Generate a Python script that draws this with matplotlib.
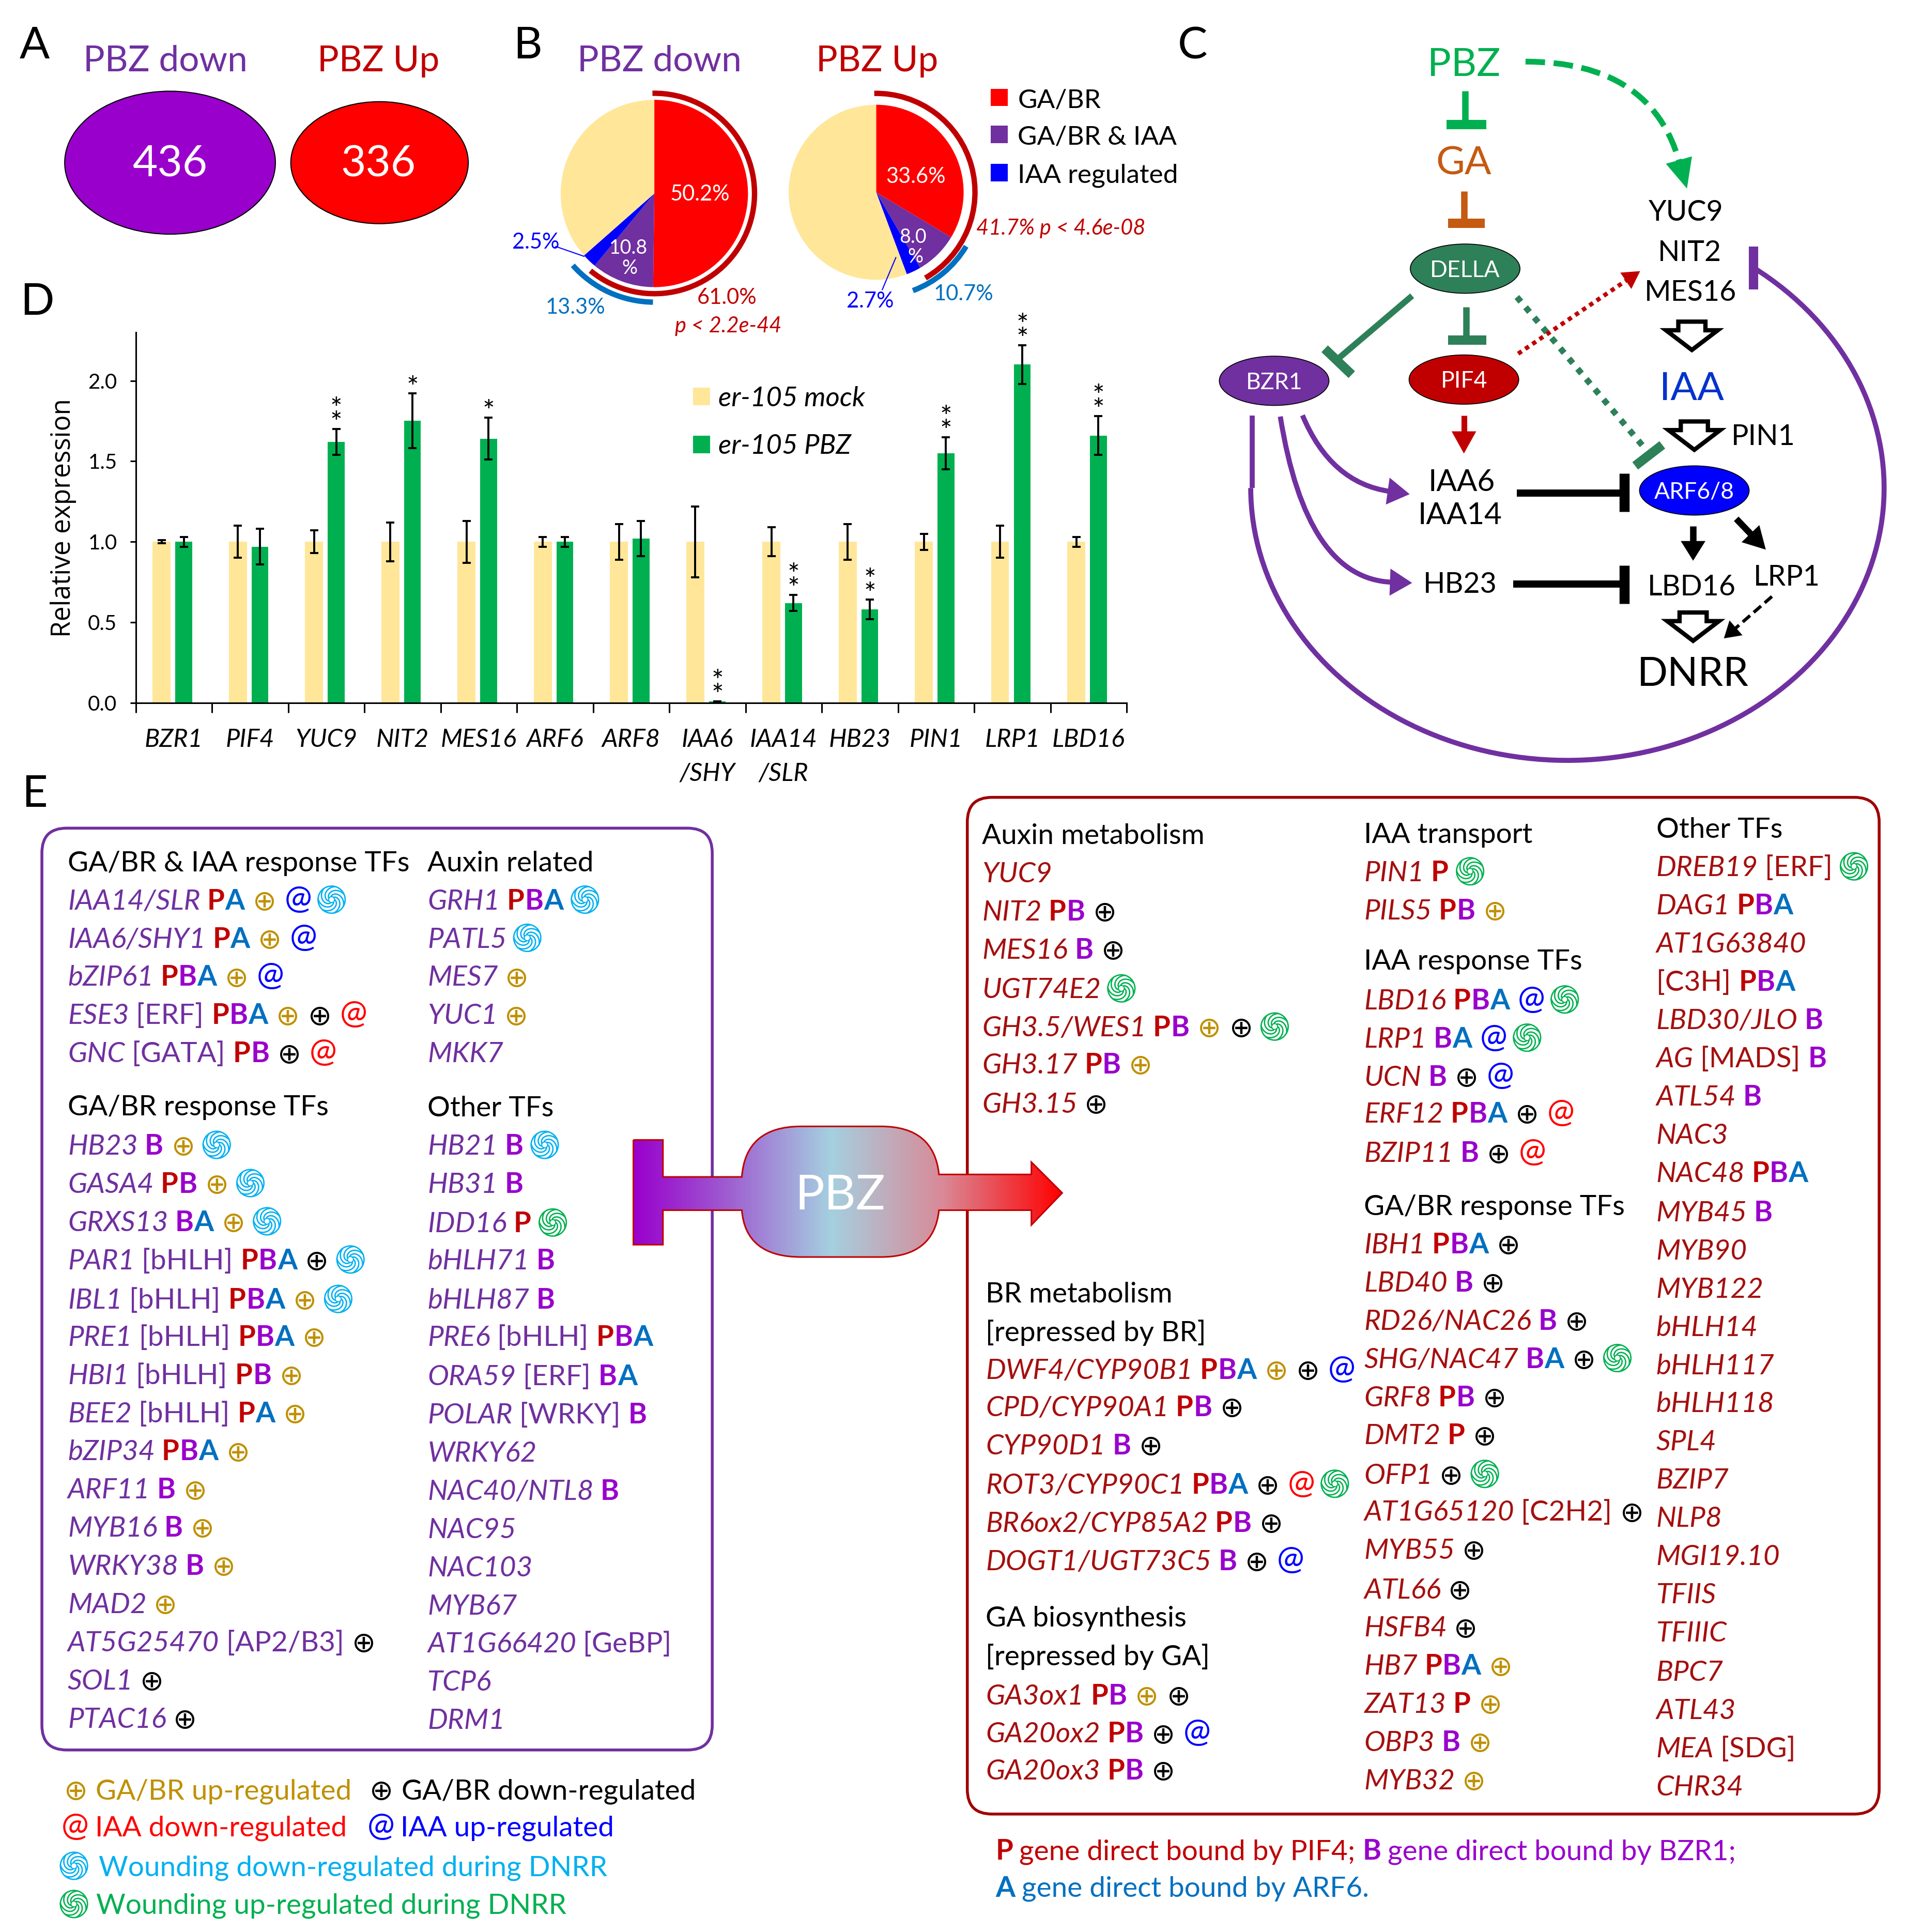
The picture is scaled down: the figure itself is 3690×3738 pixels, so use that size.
import numpy as np
import matplotlib
matplotlib.use("Agg")
import matplotlib.pyplot as plt
from matplotlib.patches import Ellipse, Polygon, Arc, PathPatch, FancyBboxPatch, Rectangle
from matplotlib.path import Path
from matplotlib.colors import LinearSegmentedColormap

# ---------- data ----------
VENN_LABELS = ["436", "336"]
PIE_DOWN = [50.2, 10.8, 2.5, 36.5]
PIE_UP = [33.6, 8.0, 2.7, 55.7]
PIE_COLORS = ["#FF0000", "#7030A0", "#0000FF", "#FFE699"]
LEGEND_B = ["GA/BR", "GA/BR & IAA", "IAA regulated"]

GENES_D = ["BZR1", "PIF4", "YUC9", "NIT2", "MES16", "ARF6", "ARF8", "IAA6\n/SHY",
           "IAA14\n/SLR", "HB23", "PIN1", "LRP1", "LBD16"]
MOCK = [1, 1, 1, 1, 1, 1, 1, 1, 1, 1, 1, 1, 1]
MOCK_ERR = [0.01, 0.10, 0.07, 0.12, 0.13, 0.03, 0.11, 0.22, 0.09, 0.11, 0.05, 0.10, 0.03]
PBZ = [1.00, 0.97, 1.62, 1.75, 1.64, 1.00, 1.02, 0.01, 0.62, 0.58, 1.55, 2.10, 1.66]
PBZ_ERR = [0.03, 0.11, 0.08, 0.17, 0.13, 0.03, 0.11, 0.0, 0.05, 0.06, 0.10, 0.12, 0.12]
STARS = [0, 0, 2, 1, 1, 0, 0, 2, 2, 2, 2, 2, 2]

L1A = [("IAA14/SLR", "", "PA", "ubc"), ("IAA6/SHY1", "", "PA", "ub"), ("bZIP61", "", "PBA", "ub"),
       ("ESE3", "[ERF]", "PBA", "udr"), ("GNC", "[GATA]", "PB", "dr")]
L1B = [("HB23", "", "B", "uc"), ("GASA4", "", "PB", "uc"), ("GRXS13", "", "BA", "uc"),
       ("PAR1", "[bHLH]", "PBA", "dc"), ("IBL1", "[bHLH]", "PBA", "uc"), ("PRE1", "[bHLH]", "PBA", "u"),
       ("HBI1", "[bHLH]", "PB", "u"), ("BEE2", "[bHLH]", "PA", "u"), ("bZIP34", "", "PBA", "u"),
       ("ARF11", "", "B", "u"), ("MYB16", "", "B", "u"), ("WRKY38", "", "B", "u"), ("MAD2", "", "", "u"),
       ("AT5G25470", "[AP2/B3]", "", "d"), ("SOL1", "", "", "d"), ("PTAC16", "", "", "d")]
L2A = [("GRH1", "", "PBA", "c"), ("PATL5", "", "", "c"), ("MES7", "", "", "u"), ("YUC1", "", "", "u"),
       ("MKK7", "", "", "")]
L2B = [("HB21", "", "B", "c"), ("HB31", "", "B", ""), ("IDD16", "", "P", "g"), ("bHLH71", "", "B", ""),
       ("bHLH87", "", "B", ""), ("PRE6", "[bHLH]", "PBA", ""), ("ORA59", "[ERF]", "BA", ""),
       ("POLAR", "[WRKY]", "B", ""), ("WRKY62", "", "", ""), ("NAC40/NTL8", "", "B", ""), ("NAC95", "", "", ""),
       ("NAC103", "", "", ""), ("MYB67", "", "", ""), ("AT1G66420", "[GeBP]", "", ""), ("TCP6", "", "", ""),
       ("DRM1", "", "", "")]
R1A = [("YUC9", "", "", ""), ("NIT2", "", "PB", "d"), ("MES16", "", "B", "d"), ("UGT74E2", "", "", "g"),
       ("GH3.5/WES1", "", "PB", "udg"), ("GH3.17", "", "PB", "u"), ("GH3.15", "", "", "d")]
R1B = [("DWF4/CYP90B1", "", "PBA", "udb"), ("CPD/CYP90A1", "", "PB", "d"), ("CYP90D1", "", "B", "d"),
       ("ROT3/CYP90C1", "", "PBA", "drg"), ("BR6ox2/CYP85A2", "", "PB", "d"), ("DOGT1/UGT73C5", "", "B", "db")]
R1C = [("GA3ox1", "", "PB", "ud"), ("GA20ox2", "", "PB", "db"), ("GA20ox3", "", "PB", "d")]
R2A = [("PIN1", "", "P", "g"), ("PILS5", "", "PB", "u")]
R2B = [("LBD16", "", "PBA", "bg"), ("LRP1", "", "BA", "bg"), ("UCN", "", "B", "db"), ("ERF12", "", "PBA", "dr"),
       ("BZIP11", "", "B", "dr")]
R2C = [("IBH1", "", "PBA", "d"), ("LBD40", "", "B", "d"), ("RD26/NAC26", "", "B", "d"),
       ("SHG/NAC47", "", "BA", "dg"), ("GRF8", "", "PB", "d"), ("DMT2", "", "P", "d"), ("OFP1", "", "", "dg"),
       ("AT1G65120", "[C2H2]", "", "d"), ("MYB55", "", "", "d"), ("ATL66", "", "", "d"), ("HSFB4", "", "", "d"),
       ("HB7", "", "PBA", "u"), ("ZAT13", "", "P", "u"), ("OBP3", "", "B", "u"), ("MYB32", "", "", "u")]
R3 = [("DREB19", "[ERF]", "", "g"), ("DAG1", "", "PBA", ""), ("AT1G63840", "", "", ""), ("", "[C3H]", "PBA", ""),
      ("LBD30/JLO", "", "B", ""), ("AG", "[MADS]", "B", ""), ("ATL54", "", "B", ""), ("NAC3", "", "", ""),
      ("NAC48", "", "PBA", ""), ("MYB45", "", "B", ""), ("MYB90", "", "", ""), ("MYB122", "", "", ""),
      ("bHLH14", "", "", ""), ("bHLH117", "", "", ""), ("bHLH118", "", "", ""), ("SPL4", "", "", ""),
      ("BZIP7", "", "", ""), ("NLP8", "", "", ""), ("MGI19.10", "", "", ""), ("TFIIS", "", "", ""),
      ("TFIIIC", "", "", ""), ("BPC7", "", "", ""), ("ATL43", "", "", ""), ("MEA", "[SDG]", "", ""),
      ("CHR34", "", "", "")]

# ---------- set-up ----------
FONT = "Lato"
plt.rcParams["font.family"] = [FONT, "DejaVu Sans"]
W = 1548.0
H = W * 3738 / 3691
fig = plt.figure(figsize=(36.91, 37.38), dpi=100, facecolor="white")
PX = 3691 / W
ov = fig.add_axes([0, 0, 1, 1], zorder=5)
ov.set_xlim(0, W); ov.set_ylim(H, 0); ov.axis("off")
renderer = fig.canvas.get_renderer()

PURPLE = "#7030A0"; DRED = "#C00000"; BLUE2 = "#0070C0"; GOLD = "#BF9000"; GENE_R = "#A50F0F"
LET = {"P": "#C00000", "B": "#9900CC", "A": "#0070C0"}
SZ = 39.5


def T(x, y, s, size=SZ, color="black", ha="center", va="center", **kw):
    return ov.text(x, y + 2.5, s, fontsize=size, color=color, ha=ha, va=va, **kw)


def swirl(cx, cy, color, r=11.0):
    ov.add_patch(Ellipse((cx, cy), 2 * r, 2 * r, fill=False, ec=color, lw=1.9))
    for k in range(7):
        t = np.linspace(0, 1, 24)
        a = 2 * np.pi * k / 7 + 2.3 * t
        rad = r * (0.22 + 0.78 * t)
        ov.plot(cx + rad * np.cos(a), cy + rad * np.sin(a), color=color, lw=1.9, solid_capstyle="round")
    ov.add_patch(Ellipse((cx, cy), 0.44 * r, 0.44 * r, fill=False, ec=color, lw=1.4))


MARKS = {"u": ("\u2295", GOLD), "d": ("\u2295", "black"), "r": ("@", "#FF0000"), "b": ("@", "#0000FF")}
BASE = 9


def put(x, y, s, color, gap, **kw):
    t = ov.text(x, y + BASE, s, fontsize=kw.pop("size", SZ), color=color, ha="left", va="baseline", **kw)
    return x + t.get_window_extent(renderer).width / PX + gap


def mark(x, y, c, size=SZ):
    if c in "ud":
        return put(x, y + 0.5, MARKS[c][0], MARKS[c][1], 6.5, family=["DejaVu Sans"], size=size * 1.0)
    if c in "rb":
        return put(x, y - 0.5, MARKS[c][0], MARKS[c][1], 5.0, size=size * 1.15)
    swirl(x + 11, y + 1, "#00B0F0" if c == "c" else "#00B050")
    return x + 28


def gene_line(x, y, g, color):
    name, br, letters, marks = g
    if name:
        x = put(x, y, name, color, 5.5, style="italic")
    if br:
        x = put(x, y, br, color, 6.5)
    for i, l in enumerate(letters):
        x = put(x, y, l, LET[l], 0.3 if i < len(letters) - 1 else 6.5, weight="bold")
    for c in marks:
        x = mark(x, y, c)


def column(x, ys, genes, color):
    for y, g in zip(ys, genes):
        gene_line(x, y, g, color)


# ---------- panel letters ----------
for s, x, y in [("A", 28, 35), ("B", 428, 35), ("C", 968, 35), ("D", 30, 243), ("E", 28, 642)]:
    T(x, y, s, size=62)

# ---------- panel A ----------
T(134, 47, "PBZ down", size=50, color=PURPLE)
T(307, 47, "PBZ Up", size=50, color=DRED)
ov.add_patch(Ellipse((138, 132), 171, 116, fc="#9900CC", ec="black", lw=1.5))
ov.add_patch(Ellipse((308, 132), 144, 99, fc="#FF0000", ec="black", lw=1.5))
T(138, 131, VENN_LABELS[0], size=60, color="white")
T(307, 131, VENN_LABELS[1], size=60, color="white")

# ---------- panel B ----------
T(535, 47, "PBZ down", size=50, color=PURPLE)
T(712, 47, "PBZ Up", size=50, color=DRED)


def pie(cx, cy, r, vals, red_span, blue_span, rr, rb):
    R = r * 1.3
    ax = fig.add_axes([(cx - R) / W, 1 - (cy + R) / H, 2 * R / W, 2 * R / H], zorder=2)
    ax.pie(vals, colors=PIE_COLORS, startangle=90, counterclock=False, radius=1,
           wedgeprops=dict(linewidth=0))
    ax.set_xlim(-1.3, 1.3); ax.set_ylim(-1.3, 1.3)
    for (a, b), rad, col in [(red_span, rr, DRED), (blue_span, rb, BLUE2)]:
        ax.add_patch(Arc((0, 0), 2 * rad, 2 * rad, theta1=90 - 3.6 * b, theta2=90 - 3.6 * a,
                         ec=col, lw=7.5))
    return ax


pie(531, 157, 76, PIE_DOWN, (-0.3, PIE_DOWN[0] + PIE_DOWN[1]), (PIE_DOWN[0], sum(PIE_DOWN[:3])), 1.07, 1.16)
pie(711, 156, 71, PIE_UP, (-0.3, PIE_UP[0] + PIE_UP[1] + 0.1), (PIE_UP[0], sum(PIE_UP[:3])), 1.13, 1.20)

T(568, 155, "50.2%", size=30, color="white")
T(510, 199, "10.8", size=27, color="white")
T(511, 215, "%", size=27, color="white")
T(743, 141, "33.6%", size=30, color="white")
T(741, 190, "8.0", size=27, color="white")
T(743, 206, "%", size=27, color="white")
T(435, 194, "2.5%", size=30, color="#0000FF")
ov.plot([451, 474], [200, 208], color="#0000FF", lw=1.5)
T(467, 247, "13.3%", size=30, color=BLUE2)
T(590, 239, "61.0%", size=30, color=DRED)
T(591, 262, "p < 2.2e-44", size=30, color=DRED, style="italic")
T(861, 183, "41.7% p < 4.6e-08", size=30, color=DRED, style="italic")
T(706, 242, "2.7%", size=30, color="#0000FF")
ov.plot([716, 727], [235, 209], color="#0000FF", lw=1.5)
T(782, 236, "10.7%", size=30, color=BLUE2)
for s, y, c in zip(LEGEND_B, [79, 109, 140], PIE_COLORS):
    ov.add_patch(Rectangle((804, y - 7), 14, 14, fc=c, ec="none"))
    T(826, y, s, size=37, ha="left")

# ---------- panel D (real axes) ----------
ax = fig.add_axes([262.6 / 3691, 1 - 1360 / 3738, (2180 - 262.6) / 3691, (1360 - 643) / 3738], zorder=1)
xs = np.arange(13) + 0.5
ekw = dict(ecolor="black", elinewidth=2.8, capsize=5.5, capthick=2.8)
ax.bar(xs - 0.16, MOCK, 0.235, color="#FFE699", yerr=MOCK_ERR, error_kw=ekw, label="er-105 mock")
ax.bar(xs + 0.13, PBZ, 0.22, color="#00B050", yerr=PBZ_ERR, error_kw=ekw, label="er-105 PBZ")
ax.set_xlim(0, 13); ax.set_ylim(0, 2.3)
for sp in ("top", "right"):
    ax.spines[sp].set_visible(False)
for sp in ("left", "bottom"):
    ax.spines[sp].set_linewidth(2.2)
ax.set_xticks(np.arange(14)); ax.set_xticklabels([])
ax.set_xticks(xs, minor=True)
ax.set_xticklabels(GENES_D, minor=True, fontsize=35, style="italic", linespacing=1.6)
ax.tick_params(axis="x", which="major", length=14, width=2.2, direction="out")
ax.tick_params(axis="x", which="minor", length=0, pad=35)
ax.set_yticks([0, 0.5, 1.0, 1.5, 2.0])
ax.set_yticklabels(["0.0", "0.5", "1.0", "1.5", "2.0"], fontsize=29)
ax.tick_params(axis="y", length=8, width=2.2, pad=18)
ax.set_ylabel("Relative expression", fontsize=37, family="Open Sans", labelpad=16)
for x, v, e, n in zip(xs + 0.13, PBZ, PBZ_ERR, STARS):
    if n:
        ax.text(x, v + e - 0.02, "\n".join("*" * n), fontsize=40, ha="center", va="baseline", linespacing=0.42)
leg = ax.legend(loc="upper left", bbox_to_anchor=(0.5625, 0.855), frameon=False,
                prop=dict(family=FONT, style="italic", size=38), handlelength=0.62, handleheight=0.62,
                handletextpad=0.3, labelspacing=0.84, borderpad=0, borderaxespad=0)

# ---------- panel C ----------
GREEN = "#00B050"; ORANGE = "#C55A11"; DGREEN = "#2E8058"


def seg(p, q, c, lw, ls="-"):
    ov.plot([p[0], q[0]], [p[1], q[1]], color=c, lw=lw, ls=ls, solid_capstyle="butt", dash_capstyle="butt")


def head(p, d, c, L=18, w=10):
    d = np.array(d, float); d = d / np.hypot(*d); n = np.array([-d[1], d[0]])
    p = np.array(p, float)
    ov.add_patch(Polygon([p, p - L * d + w * n, p - L * d - w * n], fc=c, ec="none", zorder=4))


def arrow(p, q, c, lw, L=18, w=10, ls="-"):
    d = np.array(q, float) - np.array(p, float)
    u = d / np.hypot(*d)
    seg(p, np.array(q) - u * L * 0.9, c, lw, ls)
    head(q, d, c, L, w)


def curve(p, ctrl, q, c, lw, L=18, w=10, ls="-"):
    d = np.array(q, float) - np.array(ctrl, float)
    u = d / np.hypot(*d)
    end = np.array(q) - u * L * 0.9
    ov.add_patch(PathPatch(Path([p, ctrl, end], [Path.MOVETO, Path.CURVE3, Path.CURVE3]), fc="none",
                           ec=c, lw=lw, ls=ls, capstyle="butt"))
    head(q, d, c, L, w)


def node(x, y, s, c, tc="white", size=32):
    ov.add_patch(Ellipse((x, y), 89, 40, fc=c, ec="black", lw=1.2))
    T(x, y - 1, s, size=size, color=tc)


T(1188, 50, "PBZ", size=55, color=GREEN)
T(1188, 130, "GA", size=55, color=ORANGE)
seg((1189, 74), (1189, 100), GREEN, 9); seg((1174, 101), (1206, 101), GREEN, 13)
seg((1188, 155), (1188, 178), ORANGE, 9); seg((1175, 181), (1205, 181), ORANGE, 13)
node(1189, 218, "DELLA", DGREEN)
seg((1190, 249), (1190, 273), DGREEN, 9); seg((1175, 276), (1206, 276), DGREEN, 13)
node(1188, 308, "PIF4", "#C00000")
node(1034, 309, "BZR1", PURPLE)
node(1375, 398, "ARF6/8", "#0000FF")
seg((1146, 240), (1086, 291), DGREEN, 8.5); seg((1075, 283), (1097, 304), DGREEN, 13)
seg((1231, 241), (1335, 364), DGREEN, 8.5, (0, (1, 1.2))); seg((1327, 378), (1349, 361), DGREEN, 13)
arrow((1232, 287), (1331, 220), "#C00000", 6, L=14, w=8, ls=(0, (1, 1)))
curve((1238, 50), (1340, 50), (1369, 153), GREEN, 8, L=24, w=11, ls=(0, (3.4, 1.5)))
for s, x, y, z in [("YUC9", 1368, 170, 40), ("NIT2", 1371, 203, 40), ("MES16", 1372, 235, 40), ("PIN1", 1431, 352, 40),
                   ("IAA6", 1186, 389, 42), ("IAA14", 1185, 416, 42), ("HB23", 1185, 472, 40),
                   ("LBD16", 1373, 474, 40), ("LRP1", 1450, 466, 40), ("DNRR", 1374, 545, 56)]:
    T(x, y, s, size=z)
T(1373, 313, "IAA", size=55, color="#0033CC")
for cx, top in [(1373, 261), (1375, 342), (1374, 497)]:
    ov.add_patch(Polygon([(cx - 11, top), (cx + 11, top), (cx + 11, top + 7), (cx + 21, top + 7), (cx, top + 23),
                          (cx - 21, top + 7), (cx - 11, top + 7)], fc="white", ec="black", lw=6, joinstyle="miter"))
arrow((1188, 337), (1188, 368), "#C00000", 8, L=18, w=10)
curve((1057, 337), (1080, 392), (1144, 401), PURPLE, 7, L=18, w=11)
curve((1039, 338), (1060, 470), (1146, 473), PURPLE, 7, L=18, w=11)
seg((1016, 337), (1016, 396), PURPLE, 7)
ov.add_patch(Arc((1272, 396), 514, 442, theta1=-49.7, theta2=180, ec=PURPLE, lw=7))
seg((1423, 200), (1423, 235), PURPLE, 13)
seg((1231, 400), (1315, 400), "black", 10); seg((1318, 384), (1318, 415), "black", 14)
seg((1228, 474), (1315, 474), "black", 10); seg((1318, 459), (1318, 490), "black", 14)
arrow((1374, 427), (1374, 455), "black", 9, L=16, w=10)
arrow((1409, 421), (1433, 446), "black", 9, L=18, w=10)
arrow((1438, 484), (1399, 518), "black", 4.5, L=13, w=8, ls=(0, (3, 1.5)))

# ---------- panel E boxes ----------
ov.add_patch(FancyBboxPatch((34, 672), 544, 748, boxstyle="round,pad=0,rounding_size=20", fc="none", ec=PURPLE, lw=4))
ov.add_patch(FancyBboxPatch((785, 647), 740, 825, boxstyle="round,pad=0,rounding_size=20", fc="none", ec="#A00000", lw=4))

# left box
T(55, 698, "GA/BR & IAA response TFs", ha="left")
T(347, 698, "Auxin related", ha="left")
T(55, 896, "GA/BR response TFs", ha="left")
T(347, 897, "Other TFs", ha="left")
column(55, [729, 760, 791, 822, 853], L1A, PURPLE)
column(55, [928, 959, 990, 1021, 1053, 1083, 1114, 1145, 1176, 1207, 1238, 1269, 1300, 1331, 1362, 1393], L1B, PURPLE)
column(347, [729, 760, 791, 822, 853], L2A, PURPLE)
column(347, [928, 959, 991, 1021, 1053, 1083, 1115, 1146, 1177, 1208, 1239, 1270, 1301, 1332, 1363, 1394], L2B, PURPLE)

# right box
T(797, 676, "Auxin metabolism", ha="left")
T(800, 1048, "BR metabolism", ha="left")
T(800, 1079, "[repressed by BR]", ha="left")
T(800, 1311, "GA biosynthesis", ha="left")
T(800, 1342, "[repressed by GA]", ha="left")
T(1107, 675, "IAA transport", ha="left")
T(1107, 778, "IAA response TFs", ha="left")
T(1107, 977, "GA/BR response TFs", ha="left")
T(1344, 671, "Other TFs", ha="left")
column(797, [707, 738, 769, 801, 832, 862, 894], R1A, GENE_R)
column(800, [1110, 1140, 1171, 1203, 1234, 1265], R1B, GENE_R)
column(800, [1374, 1405, 1435], R1C, GENE_R)
column(1107, [706, 737], R2A, GENE_R)
column(1107, [810, 841, 872, 902, 934], R2B, GENE_R)
column(1107, [1008, 1039, 1070, 1101, 1132, 1163, 1195, 1225, 1256, 1288, 1319, 1350, 1381, 1412, 1443], R2C, GENE_R)
column(1344, [702, 733, 764, 795, 826, 857, 888, 919, 950, 982, 1013, 1044, 1075, 1106, 1137, 1168, 1199, 1230,
              1261, 1292, 1323, 1355, 1386, 1417, 1448], R3, GENE_R)

# centre PBZ arrow
verts = [(514, 925), (538, 925), (538, 955), (602, 955), (605, 914), (650, 914), (715, 914), (758, 914), (762, 953),
         (837, 953), (837, 943), (862, 968), (837, 994), (837, 982), (762, 982), (758, 1020), (715, 1020), (650, 1020),
         (605, 1020), (602, 982), (538, 982), (538, 1010), (514, 1010), (514, 925)]
L, M, C = Path.LINETO, Path.MOVETO, Path.CURVE3
codes = [M, L, L, L, C, C, L, C, C, L, L, L, L, L, L, C, C, L, C, C, L, L, L, L]
shape = PathPatch(Path(verts, codes), fc="none", ec="#C00000", lw=2.2, zorder=3)
ov.add_patch(shape)
cmap = LinearSegmentedColormap.from_list("pbz", [(0, "#9900CC"), (0.2, "#9E55D0"), (0.46, "#A5D0E0"),
                                                 (0.72, "#D98A98"), (1, "#FF0000")])
im = ov.imshow(np.linspace(0, 1, 256).reshape(1, -1), cmap=cmap, extent=(514, 862, 1020, 914), aspect="auto", zorder=2)
clip = PathPatch(Path(verts, codes), transform=ov.transData, fc="none", ec="none")
ov.add_patch(clip)
im.set_clip_path(clip)
ov.set_xlim(0, W); ov.set_ylim(H, 0)
T(682, 968, "PBZ", size=68, color="white", zorder=4)

# bottom legends
xa = mark(52, 1451, "u"); put(xa, 1451, "GA/BR up-regulated", GOLD, 0)
xa = mark(300, 1451, "d"); put(xa, 1451, "GA/BR down-regulated", "black", 0)
xa = mark(50, 1481, "r"); put(xa, 1481, "IAA down-regulated", "#FF0000", 0)
xa = mark(298, 1481, "b"); put(xa, 1481, "IAA up-regulated", "#0000FF", 0)
swirl(60, 1514, "#00B0F0"); put(80, 1513, "Wounding down-regulated during DNRR", "#00B0F0", 0)
swirl(60, 1545, "#00B050"); put(78, 1544, "Wounding up-regulated during DNRR", "#00B050", 0)
xa = put(808, 1500, "P", LET["P"], 5, weight="bold")
xa = put(xa, 1500, "gene direct bound by PIF4;", LET["P"], 6)
xa = put(xa, 1500, "B", LET["B"], 5, weight="bold")
put(xa, 1500, "gene direct bound by BZR1;", LET["B"], 0)
xa = put(808, 1530, "A", LET["A"], 5, weight="bold")
put(xa, 1530, "gene direct bound by ARF6.", LET["A"], 0)

fig.savefig("out.png", dpi=100)
